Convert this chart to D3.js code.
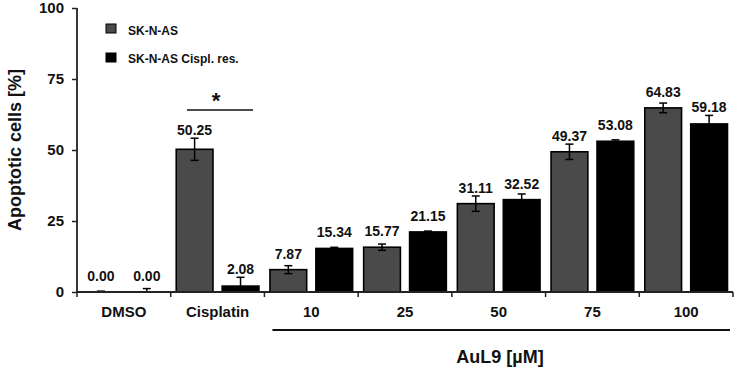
<!DOCTYPE html>
<html><head><meta charset="utf-8">
<script src="https://cdn.jsdelivr.net/npm/d3@7"></script>
<style>body{margin:0;background:#fff}svg{display:block;font-family:"Liberation Sans",Arial,sans-serif;font-weight:bold}</style>
</head><body><svg id="c" width="737" height="370"></svg>
<script>
const categories = ["DMSO","Cisplatin","10","25","50","75","100"];
const seriesNames = ["SK-N-AS","SK-N-AS Cispl. res."];
const valuesA = [0.00,50.25,7.87,15.77,31.11,49.37,64.83];
const errorsA = [0.3,3.9,1.4,1.1,2.7,2.7,1.7];
const valuesB = [0.00,2.08,15.34,21.15,32.52,53.08,59.18];
const errorsB = [1.2,3.1,0.4,0.3,2.0,0.5,3.0];
const yTicks = [0,25,50,75,100];
const colors = ["#4a4a4a","#000000"];

const svg = d3.select("#c");
const x0 = d3.scaleBand().domain(categories).range([77,733]).padding(0);
const x1 = d3.scaleBand().domain([0,1]).range([0,x0.bandwidth()]).paddingInner(0.2).paddingOuter(0.12);
const y = d3.scaleLinear().domain([0,100]).range([292,8]);

const data = [];
categories.forEach((c,i)=>{
  data.push({c,s:0,v:valuesA[i],e:errorsA[i]});
  data.push({c,s:1,v:valuesB[i],e:errorsB[i]});
});

// bars
svg.append("g").selectAll("rect").data(data).join("rect")
  .attr("x",d=>x0(d.c)+x1(d.s)).attr("width",x1.bandwidth())
  .attr("y",d=>y(d.v)).attr("height",d=>y(0)-y(d.v))
  .attr("fill",d=>colors[d.s]).attr("stroke","#000").attr("stroke-width",1.6);

// error bars
const eb = svg.append("g").attr("stroke","#000").attr("stroke-width",1.5);
data.forEach(d=>{
  const cx = x0(d.c)+x1(d.s)+x1.bandwidth()/2;
  const t = y(d.v+d.e), b = y(Math.max(0,d.v-d.e));
  eb.append("line").attr("x1",cx).attr("x2",cx).attr("y1",t).attr("y2",b);
  eb.append("line").attr("x1",cx-4).attr("x2",cx+4).attr("y1",t).attr("y2",t);
  eb.append("line").attr("x1",cx-4).attr("x2",cx+4).attr("y1",b).attr("y2",b);
});

// value labels
svg.append("g").selectAll("text").data(data).join("text")
  .attr("x",d=>x0(d.c)+x1(d.s)+x1.bandwidth()/2)
  .attr("y",d=>Math.min(y(d.v)-11, y(d.v+d.e)-3))
  .attr("text-anchor","middle").attr("font-size",14).attr("fill","#111")
  .text(d=>d.v.toFixed(2));

// y axis
const ya = svg.append("g").attr("transform","translate(77,0)")
  .call(d3.axisLeft(y).tickValues(yTicks).tickSize(5).tickPadding(8));
ya.select(".domain").attr("stroke","#222").attr("stroke-width",1.8).attr("d","M0,8V292");
ya.selectAll(".tick line").attr("stroke","#222").attr("stroke-width",1.5);
ya.selectAll("text").attr("font-size",15).attr("font-family","Liberation Sans, Arial").attr("font-weight","bold").attr("fill","#111");

// x axis
svg.append("line").attr("x1",77).attr("x2",733).attr("y1",292).attr("y2",292).attr("stroke","#222").attr("stroke-width",1.8);
const bounds = categories.map(c=>x0(c)).concat([x0.range()[1]]);
svg.append("g").selectAll("line").data(bounds).join("line")
  .attr("x1",d=>d).attr("x2",d=>d).attr("y1",292).attr("y2",297).attr("stroke","#222").attr("stroke-width",1.5);
svg.append("g").selectAll("text").data(categories).join("text")
  .attr("x",c=>x0(c)+x0.bandwidth()/2).attr("y",317)
  .attr("text-anchor","middle").attr("font-size",15).attr("fill","#111").text(c=>c);

// AuL9 bracket line
svg.append("line").attr("x1",x0("10")+8).attr("x2",730).attr("y1",330).attr("y2",330).attr("stroke","#111").attr("stroke-width",2);
svg.append("text").attr("x",500).attr("y",363).attr("text-anchor","middle").attr("font-size",18).attr("fill","#111").text("AuL9 [µM]");

// y title
svg.append("text").attr("transform","translate(21,150) rotate(-90)").attr("text-anchor","middle")
  .attr("font-size",18).attr("fill","#111").text("Apoptotic cells [%]");

// significance
svg.append("line").attr("x1",187).attr("x2",253).attr("y1",110).attr("y2",110).attr("stroke","#111").attr("stroke-width",1.5);
svg.append("text").attr("x",216).attr("y",108).attr("text-anchor","middle").attr("font-size",22).attr("fill","#111").text("*");

// legend
const lg = svg.append("g");
seriesNames.forEach((n,i)=>{
  lg.append("rect").attr("x",106).attr("y",24+i*29).attr("width",10).attr("height",9)
    .attr("fill",colors[i]).attr("stroke","#000").attr("stroke-width",1);
  lg.append("text").attr("x",128).attr("y",35+i*28).attr("font-size",12).attr("fill","#111").text(n);
});
</script></body></html>
